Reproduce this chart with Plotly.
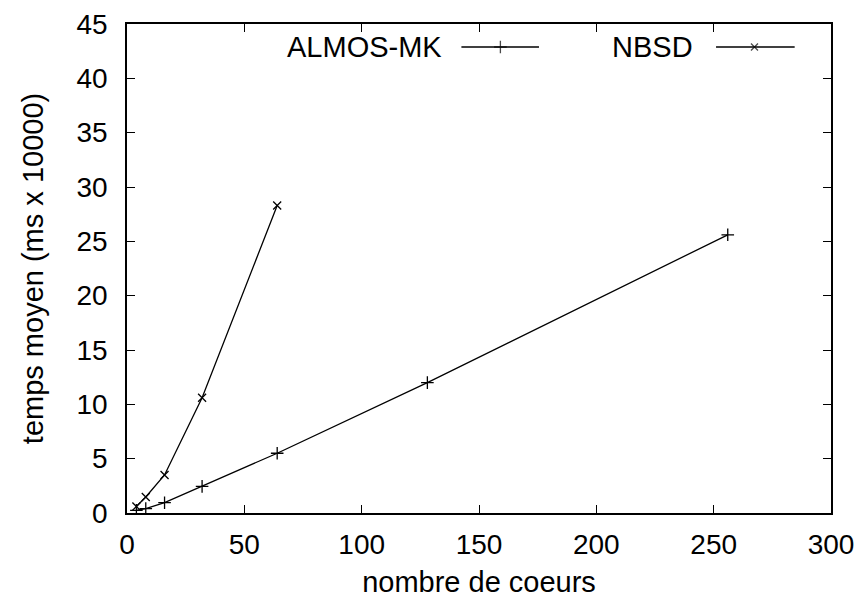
import plotly.graph_objects as go

# Data
almos_x = [4, 8, 16, 32, 64, 128, 256]
almos_y = [0.25, 0.4, 0.95, 2.45, 5.5, 12.0, 25.6]
nbsd_x = [4, 8, 16, 32, 64]
nbsd_y = [0.6, 1.47, 3.5, 10.6, 28.3]

x_ticks = [0, 50, 100, 150, 200, 250, 300]
y_ticks = [0, 5, 10, 15, 20, 25, 30, 35, 40, 45]

FONT = "Liberation Sans, Arial, sans-serif"
FS_TICK = 28
FS = 29

fig = go.Figure()
fig.add_trace(go.Scatter(
    x=almos_x, y=almos_y, mode="lines+markers", name="ALMOS-MK",
    line=dict(color="black", width=1.3),
    marker=dict(symbol="cross-thin", size=9, line=dict(color="black", width=1.3)),
    showlegend=False))
fig.add_trace(go.Scatter(
    x=nbsd_x, y=nbsd_y, mode="lines+markers", name="NBSD",
    line=dict(color="black", width=1.3),
    marker=dict(symbol="x-thin", size=8, line=dict(color="black", width=1.3)),
    showlegend=False))

# legend samples (gnuplot-style key: text then sample) on an overlay 0..1 axis
leg_y = 0.953
fig.add_trace(go.Scatter(
    x=[0.475, 0.5304, 0.5852], y=[leg_y]*3, xaxis="x2", yaxis="y2",
    mode="lines+markers", line=dict(color="black", width=1.3),
    marker=dict(symbol="cross-thin", size=[0, 9, 0], line=dict(color="black", width=1.3)),
    showlegend=False, hoverinfo="skip"))
fig.add_trace(go.Scatter(
    x=[0.8367, 0.8913, 0.9484], y=[leg_y]*3, xaxis="x2", yaxis="y2",
    mode="lines+markers", line=dict(color="black", width=1.3),
    marker=dict(symbol="x-thin", size=[0, 7, 0], line=dict(color="black", width=1.3)),
    showlegend=False, hoverinfo="skip"))

fig.add_annotation(x=0.4496, y=leg_y, xref="paper", yref="paper", text="ALMOS-MK",
                   xanchor="right", yanchor="middle", showarrow=False,
                   font=dict(family=FONT, size=FS, color="black"))
fig.add_annotation(x=0.807, y=leg_y, xref="paper", yref="paper", text="NBSD",
                   xanchor="right", yanchor="middle", showarrow=False,
                   font=dict(family=FONT, size=FS, color="black"))

axis_common = dict(
    showline=True, linecolor="black", linewidth=1.5, mirror="allticks",
    ticks="inside", ticklen=8, tickwidth=1, tickcolor="black",
    showgrid=False, zeroline=False, automargin=False,
    tickfont=dict(family=FONT, size=FS_TICK, color="black"),
)

fig.update_layout(
    width=862, height=599,
    paper_bgcolor="white", plot_bgcolor="white",
    margin=dict(l=127, r=31, t=24, b=86),
    xaxis=dict(range=[0, 300], tickvals=x_ticks, ticklabelstandoff=6,
               title=dict(text="nombre de coeurs", font=dict(family=FONT, size=FS, color="black"), standoff=12),
               **axis_common),
    yaxis=dict(range=[0, 45], tickvals=y_ticks, ticklabelstandoff=12,
               title=dict(text="temps moyen (ms x 10000)", font=dict(family=FONT, size=FS, color="black"), standoff=24),
               **axis_common),
    xaxis2=dict(range=[0, 1], overlaying="x", visible=False, fixedrange=True),
    yaxis2=dict(range=[0, 1], overlaying="y", visible=False, fixedrange=True),
    showlegend=False,
)

fig.write_html("out.html", config={"displayModeBar": False},
               post_script="document.body.style.margin='0';")
